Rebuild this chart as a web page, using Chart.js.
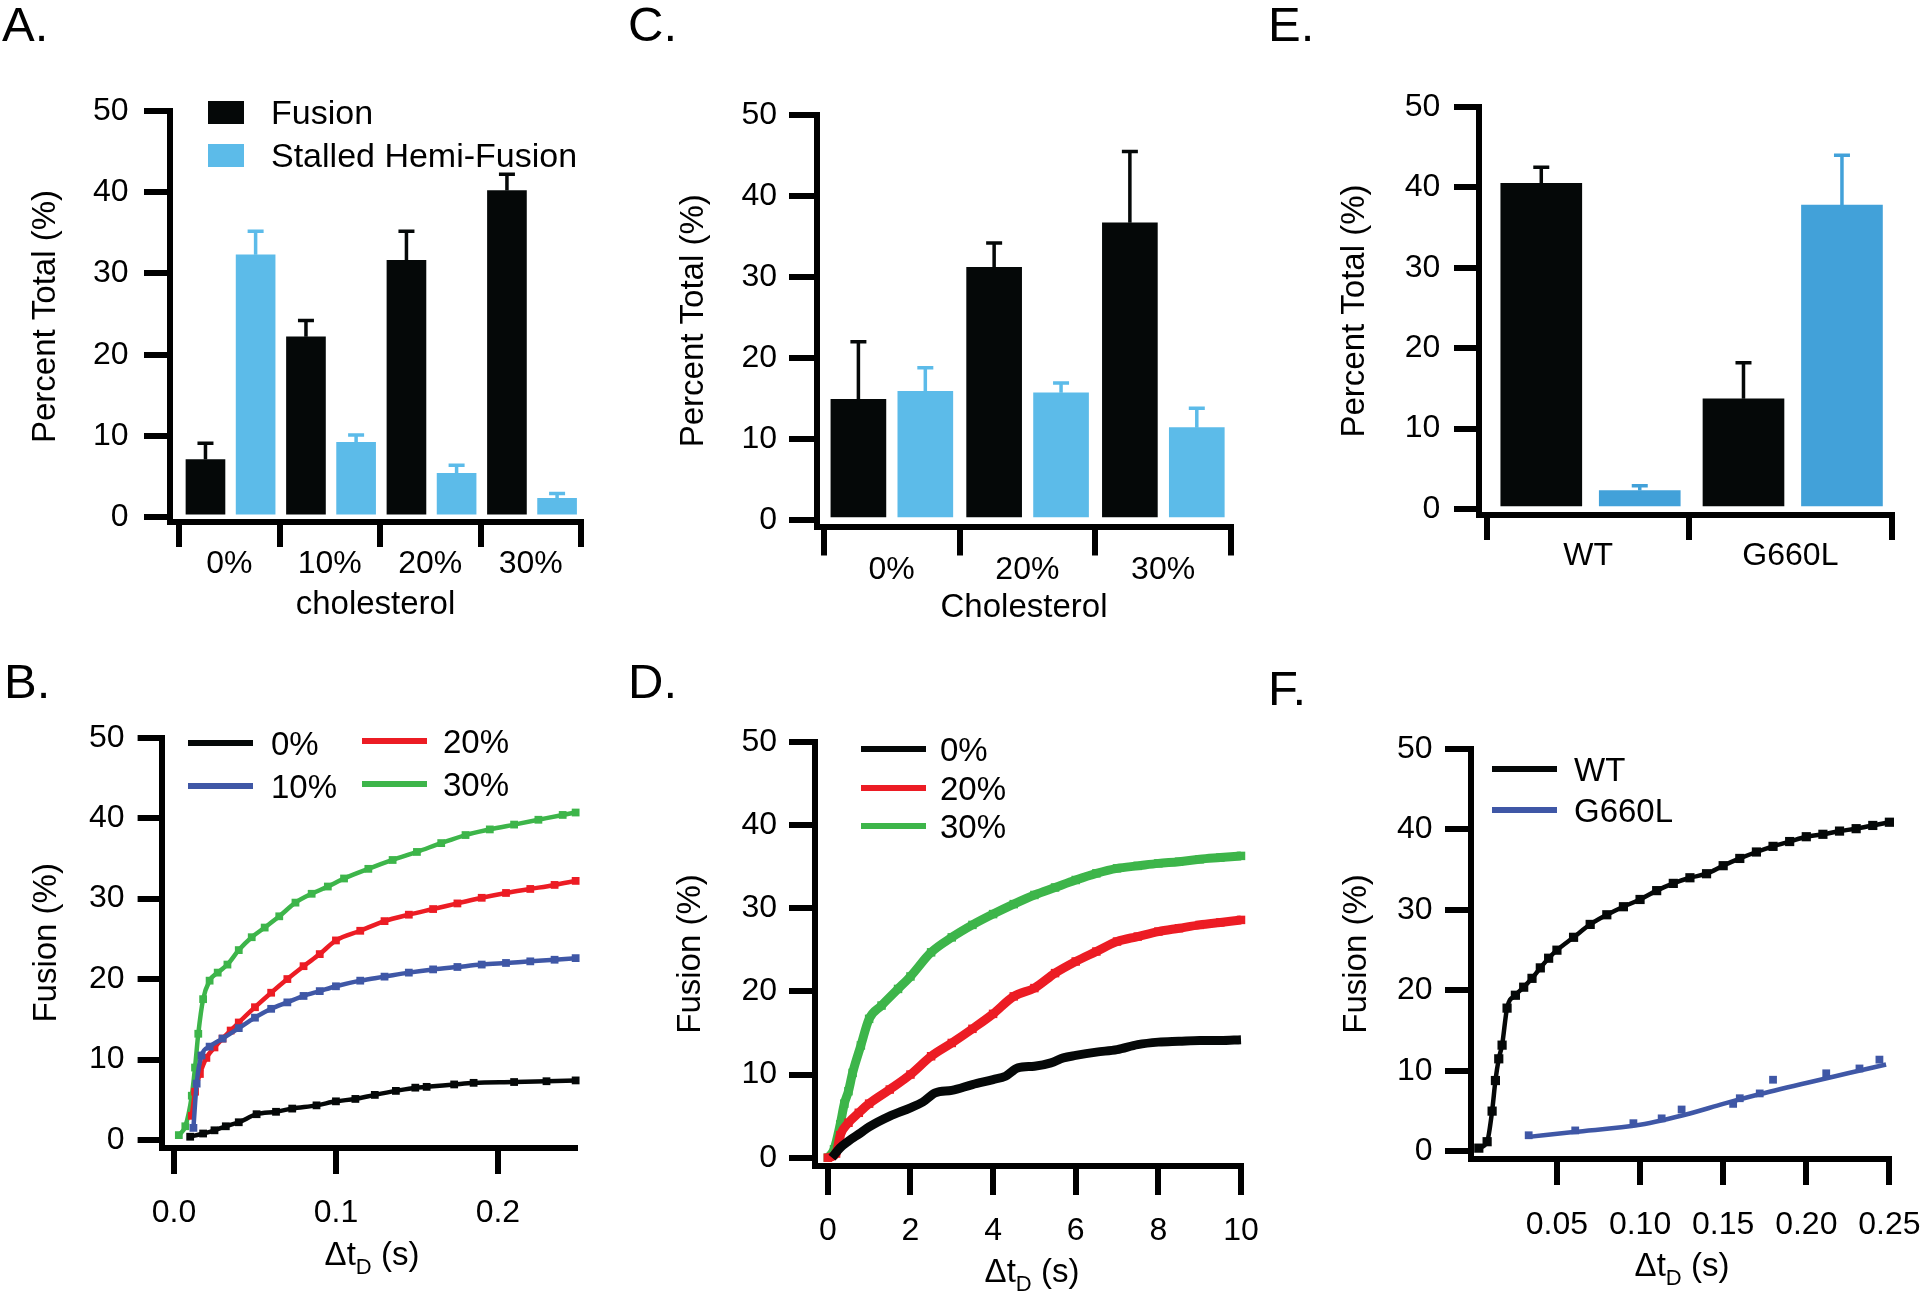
<!DOCTYPE html>
<html lang="en">
<head>
<meta charset="UTF-8">
<title>Cholesterol / fusion panels</title>
<script src="https://cdn.jsdelivr.net/npm/chart.js"></script>
<style>
  * { box-sizing: border-box; margin: 0; padding: 0; }
  body { width: 1920px; height: 1292px; background: #fff; position: relative; overflow: hidden;
         font-family: 'Liberation Sans', Arial, sans-serif; color: #000; }
  canvas { position: absolute; }
  .letter { position: absolute; font-size: 49px; line-height: 1; }
  .txt { position: absolute; font-size: 33px; line-height: 1; white-space: nowrap; transform: translateY(-50%); }
  .big { font-size: 34px; }
  .mid { transform: translate(-50%, -50%); }
  .swatch { position: absolute; }
  sub { font-size: 22px; position: relative; top: 9px; vertical-align: baseline; }
</style>
</head>
<body>
<div class="letter" style="left:2px;top:0">A.</div>
<div class="letter" style="left:628px;top:0">C.</div>
<div class="letter" style="left:1268px;top:0">E.</div>
<div class="letter" style="left:4px;top:657px">B.</div>
<div class="letter" style="left:628px;top:657px">D.</div>
<div class="letter" style="left:1268px;top:664px">F.</div>

<script>
// ─── Data ─────────────────────────────────────────────────────────────────────
const barNames    = ['Fusion', 'Stalled Hemi-Fusion'];
const yTicks      = [0, 10, 20, 30, 40, 50];

// A: cholesterol series, percent total
const catsA       = ['0%', '10%', '20%', '30%'];
const fusionA     = [7.1, 22.2, 31.6, 40.2];
const fusionErrA  = [2.0, 2.0, 3.6, 2.0];
const stalledA    = [32.3, 9.2, 5.4, 2.3];
const stalledErrA = [2.9, 0.9, 1.0, 0.6];

// C
const catsC       = ['0%', '20%', '30%'];
const fusionC     = [14.9, 31.2, 36.7];
const fusionErrC  = [7.1, 3.0, 8.8];
const stalledC    = [15.9, 15.7, 11.4];
const stalledErrC = [2.9, 1.2, 2.4];

// E
const catsE       = ['WT', 'G660L'];
const fusionE     = [40.5, 13.7];
const fusionErrE  = [2.0, 4.5];
const stalledE    = [2.3, 37.8];
const stalledErrE = [0.6, 6.2];

// B: cumulative fusion vs dwell time (s)
const bTicks      = [0, 0.1, 0.2];
const bTickLabels = ['0.0', '0.1', '0.2'];
const bNames      = ['0%', '10%', '20%', '30%'];
const b0x  = [0.010, 0.018, 0.025, 0.032, 0.040, 0.051, 0.063, 0.073, 0.088, 0.100, 0.112, 0.124, 0.137, 0.149, 0.156, 0.173, 0.185, 0.210, 0.230, 0.248];
const b0y  = [0.4, 0.8, 1.2, 1.7, 2.2, 3.2, 3.5, 3.9, 4.3, 4.8, 5.1, 5.6, 6.1, 6.5, 6.6, 6.9, 7.1, 7.2, 7.3, 7.4];
const b10x = [0.012, 0.014, 0.017, 0.022, 0.030, 0.040, 0.050, 0.060, 0.070, 0.080, 0.090, 0.100, 0.115, 0.130, 0.145, 0.160, 0.175, 0.190, 0.205, 0.220, 0.235, 0.248];
const b10y = [1.5, 7.0, 10.5, 11.6, 12.6, 13.9, 15.2, 16.3, 17.1, 17.9, 18.5, 19.1, 19.8, 20.3, 20.8, 21.2, 21.5, 21.8, 22.0, 22.2, 22.4, 22.6];
const b20x = [0.011, 0.013, 0.016, 0.020, 0.025, 0.030, 0.035, 0.040, 0.050, 0.060, 0.070, 0.080, 0.090, 0.100, 0.115, 0.130, 0.145, 0.160, 0.175, 0.190, 0.205, 0.220, 0.235, 0.248];
const b20y = [3.0, 6.0, 8.2, 10.2, 11.5, 12.6, 13.6, 14.6, 16.5, 18.3, 20.0, 21.6, 23.1, 24.8, 26.0, 27.2, 28.0, 28.7, 29.4, 30.1, 30.7, 31.2, 31.7, 32.2];
const b30x = [0.003, 0.007, 0.011, 0.013, 0.015, 0.018, 0.022, 0.027, 0.033, 0.040, 0.048, 0.056, 0.065, 0.075, 0.085, 0.095, 0.105, 0.120, 0.135, 0.150, 0.165, 0.180, 0.195, 0.210, 0.225, 0.240, 0.248];
const b30y = [0.6, 1.7, 5.5, 9.0, 13.2, 17.5, 19.8, 20.8, 21.8, 23.6, 25.2, 26.4, 27.8, 29.5, 30.6, 31.5, 32.5, 33.7, 34.8, 35.8, 36.9, 37.9, 38.6, 39.2, 39.8, 40.4, 40.7];

// D
const dTicks = [0, 2, 4, 6, 8, 10];
const dNames = ['0%', '20%', '30%'];
const d0x  = [0.1, 0.3, 0.5, 0.8, 1.0, 1.5, 2.0, 2.3, 2.6, 3.0, 3.5, 4.0, 4.3, 4.6, 5.0, 5.4, 5.7, 6.0, 6.5, 7.0, 7.5, 8.0, 8.5, 9.0, 9.5, 10.0];
const d0y  = [0, 1.2, 2.0, 3.0, 3.7, 5.0, 6.0, 6.7, 7.8, 8.1, 8.8, 9.4, 9.8, 10.8, 11.0, 11.4, 12.0, 12.3, 12.7, 13.0, 13.6, 13.9, 14.0, 14.1, 14.1, 14.2];
const d20x = [0, 0.2, 0.3, 0.5, 0.75, 1.0, 1.5, 2.0, 2.5, 3.0, 3.5, 4.0, 4.5, 5.0, 5.5, 6.0, 6.5, 7.0, 7.5, 8.0, 8.5, 9.0, 9.5, 10.0];
const d20y = [0, 0.5, 2.7, 4.2, 5.4, 6.5, 8.2, 10.0, 12.2, 13.8, 15.5, 17.3, 19.4, 20.4, 22.2, 23.6, 24.8, 26.0, 26.6, 27.2, 27.6, 28.0, 28.3, 28.6];
const d30x = [0, 0.15, 0.3, 0.4, 0.5, 0.6, 0.8, 1.0, 1.3, 1.7, 2.0, 2.5, 3.0, 3.5, 4.0, 4.5, 5.0, 5.5, 6.0, 6.5, 7.0, 7.5, 8.0, 8.5, 9.0, 9.5, 10.0];
const d30y = [0, 1.0, 4.0, 6.5, 8.0, 10.2, 13.5, 16.7, 18.3, 20.3, 21.8, 24.7, 26.5, 28.0, 29.3, 30.5, 31.6, 32.5, 33.4, 34.2, 34.8, 35.1, 35.4, 35.6, 35.9, 36.1, 36.3];

// F
const fTicks      = [0.05, 0.10, 0.15, 0.20, 0.25];
const fTickLabels = ['0.05', '0.10', '0.15', '0.20', '0.25'];
const fNames      = ['WT', 'G660L'];
const wtX   = [0.003, 0.008, 0.011, 0.013, 0.015, 0.017, 0.020, 0.025, 0.030, 0.035, 0.040, 0.045, 0.050, 0.060, 0.070, 0.080, 0.090, 0.100, 0.110, 0.120, 0.130, 0.140, 0.150, 0.160, 0.170, 0.180, 0.190, 0.200, 0.210, 0.220, 0.230, 0.240, 0.250];
const wtY   = [0.4, 1.2, 5.0, 8.8, 11.5, 13.2, 17.8, 19.4, 20.4, 21.5, 22.8, 24.0, 25.0, 26.6, 28.2, 29.4, 30.4, 31.3, 32.4, 33.3, 34.0, 34.5, 35.5, 36.4, 37.2, 37.9, 38.5, 39.1, 39.4, 39.8, 40.1, 40.5, 40.9];
const mutX  = [0.033, 0.061, 0.096, 0.113, 0.125, 0.156, 0.160, 0.172, 0.180, 0.212, 0.232, 0.244];
const mutY  = [2.0, 2.6, 3.5, 4.1, 5.2, 5.9, 6.6, 7.2, 8.9, 9.7, 10.3, 11.4];
const mutFitX = [0.033, 0.060, 0.100, 0.130, 0.150, 0.170, 0.200, 0.225, 0.248];
const mutFitY = [1.8, 2.4, 3.3, 4.7, 5.9, 7.0, 8.5, 9.7, 10.8];

// ─── Style ────────────────────────────────────────────────────────────────────
const BLACK = '#050808', SKY = '#5cbbe9', SKY_E = '#42a1d9';
const RED = '#ec1c24', GREEN = '#3db54a', NAVY = '#3f57a6';
const tickFont  = { size: 32 };
const titleFont = { size: 33 };

Chart.defaults.font.family = "'Liberation Sans', Arial, sans-serif";
Chart.defaults.color = '#000';

// canvas box + axis geometry for every panel (px)
// F's canvas runs past the page edge so its last tick label gets cut like the original
const boxes = {
  A: { L: 0,    T: 70,  W: 620, H: 560, top: 41,   right: 39,   yW: 170,   xH: 108,   yMin: -0.6,  xMin: -0.09,   xMax: 4,      yTick: 26,   yPad: 15.5, xTick: 25, xPad: -2,   yTitle: 25.7, xTitle: 5,   barW: 39, shift: [-0.237, 0.262] },
  C: { L: 640,  T: 70,  W: 640, H: 560, top: 45,   right: 49,   yW: 177,   xH: 103.5, yMin: -0.8,  xMin: -0.05,   xMax: 3,      yTick: 28,   yPad: 12,   xTick: 29, xPad: -5,   yTitle: 33.7, xTitle: 2.5, barW: 55, shift: [-0.245, 0.248] },
  E: { L: 1290, T: 60,  W: 630, H: 570, top: 47,   right: 28.5, yW: 189,   xH: 115,   yMin: -0.75, xMin: -0.04,   xMax: 2,      yTick: 25,   yPad: 13.7, xTick: 25, xPad: -3,   yTitle: 45.2, barW: 81, shift: [-0.232, 0.255] },
  B: { L: 0,    T: 690, W: 620, H: 602, top: 47.7, right: 45,   yW: 162,   xH: 144,   yMin: -1.0,  xMin: -0.0074, xMax: 0.2476, yTick: 24.4, yPad: 13,   xTick: 26, xPad: 20,   yTitle: 27.6, lw: 4.5, pr: 5.5 },
  D: { L: 640,  T: 690, W: 640, H: 602, top: 52,   right: 39,   yW: 175,   xH: 126,   yMin: -1.0,  xMin: -0.31,   xMax: 10,     yTick: 26,   yPad: 12,   xTick: 29, xPad: 17,   yTitle: 31.6, lw: 9, pr: 6 },
  F: { L: 1290, T: 690, W: 680, H: 602, top: 59,   right: 80.6, yW: 180.5, xH: 133,   yMin: -0.95, xMin: -0.002,  xMax: 0.25,   yTick: 25.5, yPad: 12.4, xTick: 26, xPad: 21,   yTitle: 47.2, lw: 4.5, pr: 6.5 },
};

// ─── Helpers ──────────────────────────────────────────────────────────────────
function makeCanvas(b) {
  const c = document.createElement('canvas');
  c.width = b.W; c.height = b.H;
  c.style.left = b.L + 'px'; c.style.top = b.T + 'px';
  document.body.appendChild(c);
  return c;
}

function yAxis(b, title) {
  return {
    type: 'linear', min: b.yMin, max: 50,
    afterBuildTicks: a => { a.ticks = yTicks.map(v => ({ value: v })); },
    afterFit: a => { a.width = b.yW; },
    ticks: { font: tickFont, color: '#000', padding: b.yPad },
    grid: { drawOnChartArea: false, tickLength: b.yTick, lineWidth: 6, tickWidth: 6, color: '#000' },
    border: { width: 6, color: '#000' },
    title: { display: true, text: title, font: titleFont, color: '#000', padding: { top: b.yTitle, bottom: 0 } },
  };
}

function xAxis(b, ticks, labelFor, tickColor, title) {
  const ax = {
    type: 'linear', min: b.xMin, max: b.xMax, offset: false,
    afterBuildTicks: a => { a.ticks = ticks.map(v => ({ value: v })); },
    afterFit: a => { a.height = b.xH; },
    ticks: { font: tickFont, color: '#000', padding: b.xPad, autoSkip: false, maxRotation: 0, minRotation: 0, callback: labelFor },
    grid: { drawOnChartArea: false, offset: false, tickLength: b.xTick, lineWidth: 6, tickWidth: 6, color: '#000', tickColor },
    border: { width: 6, color: '#000' },
  };
  if (title) ax.title = { display: true, text: title, font: titleFont, color: '#000', padding: { top: 0, bottom: b.xTitle } };
  return ax;
}

function baseOptions(b) {
  return {
    responsive: false, animation: false, devicePixelRatio: 1, events: [],
    layout: { autoPadding: false, padding: { top: b.top, right: b.right, left: 0, bottom: 0 } },
    plugins: { legend: { display: false }, tooltip: { enabled: false } },
  };
}

// one-sided (upper) error bars, drawn through the chart's own y scale
const errorBars = {
  id: 'errorBars',
  afterDatasetsDraw(chart) {
    const { ctx } = chart;
    const y = chart.scales.y;
    chart.data.datasets.forEach((ds, di) => {
      if (!ds.errors) return;
      chart.getDatasetMeta(di).data.forEach((bar, i) => {
        const top = y.getPixelForValue(ds.data[i].y + ds.errors[i]);
        ctx.save();
        ctx.strokeStyle = ds.backgroundColor;
        ctx.lineWidth = 3.5;
        ctx.beginPath();
        ctx.moveTo(bar.x, bar.y);
        ctx.lineTo(bar.x, top);
        ctx.moveTo(bar.x - 8, top);
        ctx.lineTo(bar.x + 8, top);
        ctx.stroke();
        ctx.restore();
      });
    });
  },
};

function barChart(b, cats, series, xTitle) {
  const ticks = [];
  cats.forEach((c, i) => { ticks.push(i, i + 0.5); });
  ticks.push(cats.length);
  const label = v => { const k = v - 0.5; return Number.isInteger(k) ? cats[k] : ''; };
  const tickColor = c => (c.tick && Number.isInteger(c.tick.value)) ? '#000' : 'rgba(0,0,0,0)';

  new Chart(makeCanvas(b), {
    type: 'bar',
    data: {
      datasets: series.map((s, si) => ({
        label: s.label,
        data: s.values.map((v, i) => ({ x: i + 0.5 + b.shift[si], y: v })),
        errors: s.errors,
        backgroundColor: s.color,
        borderWidth: 0,
        barThickness: b.barW,
        grouped: false,
        base: 0,
      })),
    },
    options: Object.assign(baseOptions(b), {
      scales: {
        x: xAxis(b, ticks, label, tickColor, xTitle),
        y: yAxis(b, 'Percent Total (%)'),
      },
    }),
    plugins: [errorBars],
  });
}

function lineChart(b, ticks, label, series) {
  new Chart(makeCanvas(b), {
    type: 'scatter',
    data: {
      datasets: series.map(s => ({
        data: s.x.map((x, i) => ({ x, y: s.y[i] })),
        showLine: s.line !== false,
        borderColor: s.color,
        backgroundColor: s.color,
        borderWidth: s.lw ?? b.lw,
        pointStyle: 'rect',
        pointRadius: s.pr ?? b.pr,
        pointBorderWidth: 0,
        cubicInterpolationMode: 'monotone',
        clip: false,
      })),
    },
    options: Object.assign(baseOptions(b), {
      scales: {
        x: xAxis(b, ticks, label, '#000'),
        y: yAxis(b, 'Fusion (%)'),
      },
    }),
  });
}

// ─── Panels ───────────────────────────────────────────────────────────────────
barChart(boxes.A, catsA, [
  { label: barNames[0], values: fusionA,  errors: fusionErrA,  color: BLACK },
  { label: barNames[1], values: stalledA, errors: stalledErrA, color: SKY },
], 'cholesterol');

barChart(boxes.C, catsC, [
  { label: barNames[0], values: fusionC,  errors: fusionErrC,  color: BLACK },
  { label: barNames[1], values: stalledC, errors: stalledErrC, color: SKY },
], 'Cholesterol');

barChart(boxes.E, catsE, [
  { label: barNames[0], values: fusionE,  errors: fusionErrE,  color: BLACK },
  { label: barNames[1], values: stalledE, errors: stalledErrE, color: SKY_E },
]);

lineChart(boxes.B, bTicks, (v, i) => bTickLabels[i], [
  { x: b0x,  y: b0y,  color: BLACK },
  { x: b10x, y: b10y, color: NAVY },
  { x: b20x, y: b20y, color: RED },
  { x: b30x, y: b30y, color: GREEN },
]);

lineChart(boxes.D, dTicks, v => v, [
  { x: d0x,  y: d0y,  color: BLACK, pr: 0 },
  { x: d20x, y: d20y, color: RED },
  { x: d30x, y: d30y, color: GREEN },
]);

lineChart(boxes.F, fTicks, (v, i) => fTickLabels[i], [
  { x: wtX,     y: wtY,     color: BLACK },
  { x: mutFitX, y: mutFitY, color: NAVY, pr: 0 },
  { x: mutX,    y: mutY,    color: NAVY, line: false, pr: 5.5 },
]);

// ─── HTML legends + subscripted axis titles ───────────────────────────────────
function addDiv(cls, html, x, y, extra) {
  const d = document.createElement('div');
  d.className = cls;
  d.innerHTML = html;
  d.style.left = x + 'px'; d.style.top = y + 'px';
  if (extra) Object.assign(d.style, extra);
  document.body.appendChild(d);
  return d;
}

function legendItem(kind, color, label, sx, sy, tx, cls) {
  if (kind === 'box') addDiv('swatch', '', sx, sy - 11.5, { width: '36px', height: '23px', background: color });
  else addDiv('swatch', '', sx, sy - 3, { width: '65px', height: '6px', background: color });
  addDiv('txt' + (cls ? ' ' + cls : ''), label, tx, sy);
}

legendItem('box', BLACK, barNames[0], 208, 112, 271, 'big');
legendItem('box', SKY,   barNames[1], 208, 155, 271, 'big');

legendItem('line', BLACK, bNames[0], 188, 743,   271);
legendItem('line', NAVY,  bNames[1], 188, 786,   271);
legendItem('line', RED,   bNames[2], 362, 741,   443);
legendItem('line', GREEN, bNames[3], 362, 784,   443);

legendItem('line', BLACK, dNames[0], 861, 749, 940);
legendItem('line', RED,   dNames[1], 861, 788, 940);
legendItem('line', GREEN, dNames[2], 861, 826, 940);

legendItem('line', BLACK, fNames[0], 1492, 769, 1574);
legendItem('line', NAVY,  fNames[1], 1492, 810, 1574);

const dtTitle = '\u0394t<sub>D</sub> (s)';
addDiv('txt mid', dtTitle, 372,  1253);
addDiv('txt mid', dtTitle, 1032, 1270);
addDiv('txt mid', dtTitle, 1682, 1264);
</script>
</body>
</html>
